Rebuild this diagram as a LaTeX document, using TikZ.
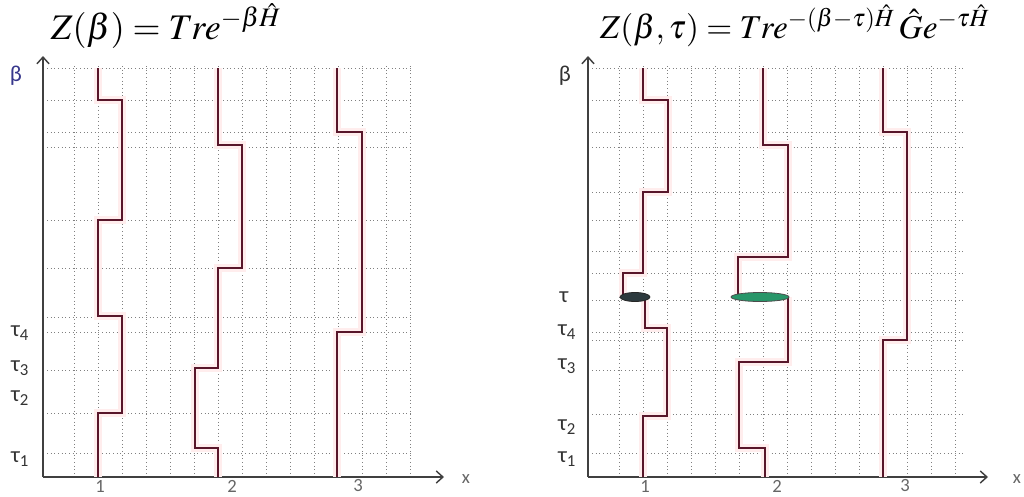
\documentclass[tikz,border=0pt]{standalone}
\usepackage{mathptmx}
\usepackage[no-math]{fontspec}
\setmainfont{Carlito}
\usetikzlibrary{arrows.meta}
\definecolor{wlinecol}{RGB}{88,22,42}
\definecolor{betacol}{RGB}{55,55,140}
\definecolor{darkblob}{RGB}{45,58,62}
\definecolor{greenblob}{RGB}{40,150,105}

\begin{document}
\begin{tikzpicture}[x=0.75pt,y=-0.75pt,
  gridline/.style={black!50,dotted,line width=0.75pt},
  wline/.style={draw=wlinecol,line width=2.2pt,preaction={draw=red!7,line width=6pt}},
  axisline/.style={draw=black!75,line width=1.1pt,-{Straight Barb[length=5pt,width=9pt,line width=1.1pt]}},
  title/.style={font=\fontsize{27}{30}\selectfont,inner sep=0pt},
  tlab/.style={font=\fontsize{17}{17}\selectfont,text=black!80,inner sep=0pt},
  nlab/.style={font=\fontsize{14}{14}\selectfont,text=black!60,inner sep=0pt}]
\useasboundingbox (0,0) rectangle (1024,496);

\node[title] (zleft) at (166,26) {$Z(\beta)=Tre^{-\beta\hat{H}}$};
\node[title,font=\fontsize{25}{28}\selectfont] (zright) at (795,26) {$Z(\beta,\tau)=Tre^{-(\beta-\tau)\hat{H}}\,\hat{G}e^{-\tau\hat{H}}$};

% left panel
\begin{scope}
\foreach \x in {74,98,...,410} \draw[gridline] (\x,66) -- (\x,477);
\foreach \y in {68,100,132,147,220,268,317,332,370,413,453} \draw[gridline] (47,\y) -- (412,\y);
\coordinate (oleft) at (43,477);
\draw[axisline] (oleft) -- (43,56);
\draw[axisline] (oleft) -- (444,477);
\draw[wline] (98,477) -- (98,413) -- (122,413) -- (122,316) -- (98,316) -- (98,220) -- (122,220) -- (122,100) -- (98,100) -- (98,68);
\draw[wline] (218,477) -- (218,448) -- (195,448) -- (195,368) -- (218,368) -- (218,268) -- (242,268) -- (242,145) -- (218,145) -- (218,68);
\draw[wline] (337,477) -- (337,332) -- (362,332) -- (362,132) -- (337,132) -- (337,68);
\node[tlab,text=betacol] (betaleft) at (16,76) {β};
\node[tlab] (tau4left) at (20,333) {τ\textsubscript{4}};
\node[tlab] (tau3left) at (20,368) {τ\textsubscript{3}};
\node[tlab] (tau2left) at (20,398) {τ\textsubscript{2}};
\node[tlab] (tau1left) at (20,459) {τ\textsubscript{1}};
\node[nlab] (oneleft) at (100,486) {1};
\node[nlab] (twoleft) at (232,486) {2};
\node[nlab] (threeleft) at (358,486) {3};
\node[nlab] (xleft) at (466,479) {x};
\end{scope}

% right panel
\begin{scope}[shift={(545,0)}]
\foreach \x in {74,98,...,410} \draw[gridline] (\x,66) -- (\x,477);
\foreach \y in {68,100,132,147,192,220,251,273,300,332,340,370,414,453} \draw[gridline] (47,\y) -- (418,\y);
\coordinate (oright) at (43,477);
\draw[axisline] (oright) -- (43,56);
\draw[axisline] (oright) -- (443,477);
\draw[wline] (98,477) -- (98,416) -- (122,416) -- (122,328) -- (100,328) -- (100,297);
\draw[wline] (78,297) -- (78,273) -- (98,273) -- (98,192) -- (123,192) -- (123,100) -- (98,100) -- (98,68);
\draw[wline] (220,477) -- (220,448) -- (194,448) -- (194,362) -- (243,362) -- (243,297);
\draw[wline] (193,297) -- (193,257) -- (243,257) -- (243,145) -- (218,145) -- (218,68);
\draw[wline] (338,477) -- (338,340) -- (362,340) -- (362,132) -- (338,132) -- (338,68);
\filldraw[fill=darkblob,draw=black!85,line width=0.6pt] (90,297) ellipse [x radius=15,y radius=4.5];
\filldraw[fill=greenblob,draw=black!70,line width=0.6pt] (215,297) ellipse [x radius=29,y radius=4.5];
\node[tlab] (betaright) at (20,76) {β};
\node[tlab] (tauright) at (19,297) {τ};
\node[tlab] (tau4right) at (22,332) {τ\textsubscript{4}};
\node[tlab] (tau3right) at (22,366) {τ\textsubscript{3}};
\node[tlab] (tau2right) at (22,427) {τ\textsubscript{2}};
\node[tlab] (tau1right) at (22,459) {τ\textsubscript{1}};
\node[nlab] (oneright) at (100,486) {1};
\node[nlab] (tworight) at (232,486) {2};
\node[nlab] (threeright) at (360,486) {3};
\node[nlab] (xright) at (472,479) {x};
\end{scope}
\end{tikzpicture}
\end{document}
